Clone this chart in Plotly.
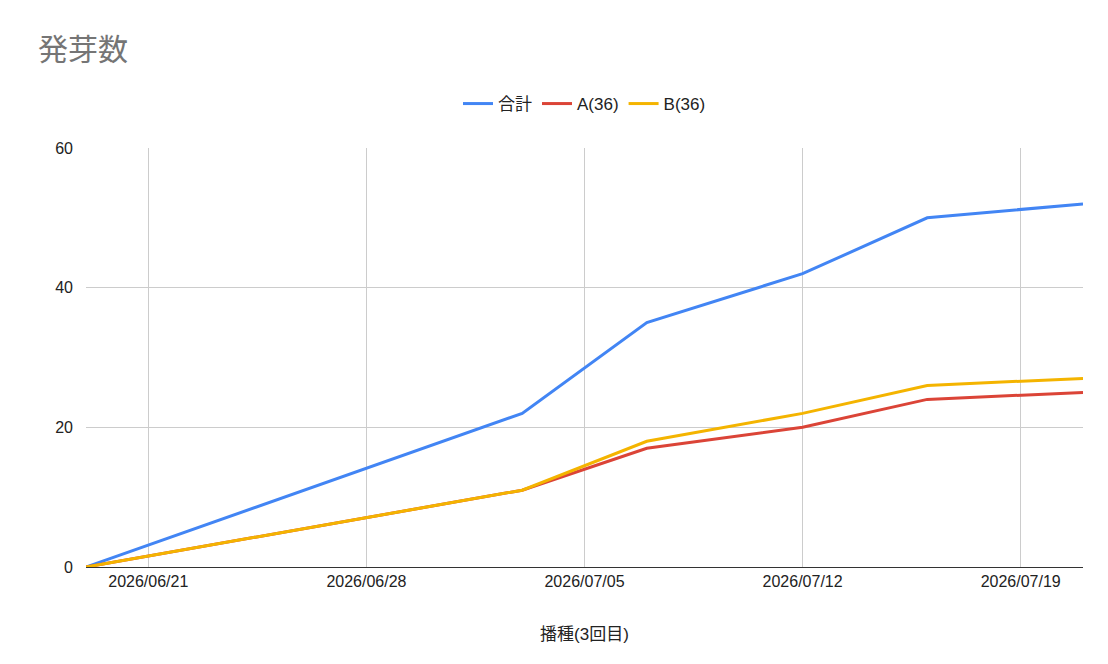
import plotly.graph_objects as go

dates = ["2026-06-19", "2026-07-03", "2026-07-07", "2026-07-12", "2026-07-16", "2026-07-21"]
total = [0, 22, 35, 42, 50, 52]
a_vals = [0, 11, 17, 20, 24, 25]
b_vals = [0, 11, 18, 22, 26, 27]
tick_dates = ["2026-06-21", "2026-06-28", "2026-07-05", "2026-07-12", "2026-07-19"]
tick_text = ["2026/06/21", "2026/06/28", "2026/07/05", "2026/07/12", "2026/07/19"]

font = "Liberation Sans, Noto Sans CJK JP, Arial, sans-serif"

fig = go.Figure()
fig.add_trace(go.Scatter(x=dates, y=total, name="合計", mode="lines",
                         line=dict(color="#4285F4", width=3)))
fig.add_trace(go.Scatter(x=dates, y=a_vals, name="A(36)", mode="lines",
                         line=dict(color="#DB4437", width=3)))
fig.add_trace(go.Scatter(x=dates, y=b_vals, name="B(36)", mode="lines",
                         line=dict(color="#F4B400", width=3)))

fig.update_layout(
    width=1108, height=664,
    paper_bgcolor="white", plot_bgcolor="white",
    font=dict(family=font, size=16, color="#222"),
    title=dict(text="発芽数", x=0.027, y=0.937, xanchor="left", yanchor="middle",
               font=dict(size=30, color="#757575")),
    legend=dict(orientation="h", x=0.5, xanchor="center", y=1.105, yanchor="middle",
                font=dict(size=17)),
    margin=dict(l=78, r=33, t=140, b=105),
    xaxis=dict(range=["2026-06-19", "2026-07-21"], tickvals=tick_dates, ticktext=tick_text,
               showgrid=True, gridcolor="#cccccc", showline=True, linecolor="#333",
               automargin=False,
               title=dict(text="播種(3回目)", font=dict(size=17), standoff=38), zeroline=False),
    yaxis=dict(range=[0, 60], tickvals=[0, 20, 40, 60], showgrid=True, gridcolor="#cccccc",
               automargin=False, zeroline=False, ticks="", ticklabelstandoff=12),
)

fig.write_html("out.html")
